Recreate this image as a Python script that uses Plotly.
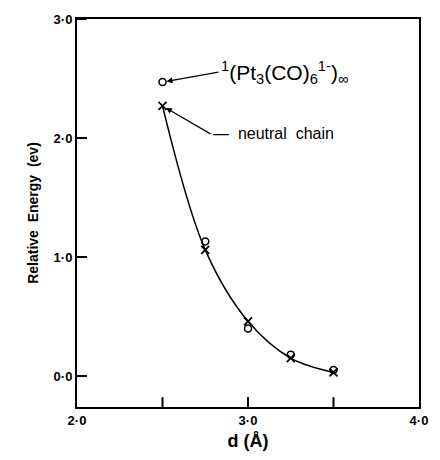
import plotly.graph_objects as go

d_vals = [2.5, 2.75, 3.0, 3.25, 3.5]
anion_energy = [2.47, 1.13, 0.40, 0.18, 0.05]
neutral_energy = [2.27, 1.06, 0.46, 0.15, 0.03]

x_tickvals = [2.0, 3.0, 4.0]
x_ticktext = ["2·0", "3·0", "4·0"]
x_tickmarks = [2.5, 3.0, 3.5]
y_tickvals = [0.0, 1.0, 2.0, 3.0]
y_ticktext = ["0·0", "1·0", "2·0", "3·0"]

FONT = "Liberation Sans, Arial, sans-serif"
W, H = 440, 460
ML, MR, MT, MB = 77, 12, 14, 52
XR = [2.0, 4.0]
YR = [-0.26, 3.0]
TICK_PX = 10

fig = go.Figure()
fig.add_trace(go.Scatter(
    x=d_vals, y=neutral_energy, mode="lines",
    line=dict(color="black", width=1.5, shape="spline", smoothing=1.0),
    hoverinfo="skip", showlegend=False))
fig.add_trace(go.Scatter(
    x=d_vals, y=anion_energy, mode="markers",
    marker=dict(symbol="circle-open", size=7, color="black", line=dict(width=1.5)),
    showlegend=False))
fig.add_trace(go.Scatter(
    x=d_vals, y=neutral_energy, mode="markers",
    marker=dict(symbol="x-thin-open", size=8, color="black", line=dict(width=1.8, color="black")),
    showlegend=False))

# inside tick marks: length converted from pixels via the axis ranges
dx_tick = TICK_PX * (XR[1] - XR[0]) / (W - ML - MR)
dy_tick = TICK_PX * (YR[1] - YR[0]) / (H - MT - MB)
tx, ty = [], []
for xv in x_tickmarks:
    tx += [xv, xv, None]
    ty += [YR[0], YR[0] + dy_tick, None]
for yv in y_tickvals:
    tx += [XR[0], XR[0] + dx_tick, None]
    ty += [yv, yv, None]
fig.add_trace(go.Scatter(x=tx, y=ty, mode="lines", line=dict(color="black", width=2),
                         hoverinfo="skip", showlegend=False, cliponaxis=False))

fig.add_annotation(
    x=2.5, y=anion_energy[0], xref="x", yref="y",
    text="<sup>1</sup>(Pt<sub>3</sub>(CO)<sub>6</sub><sup>1-</sup>)<sub>∞</sub>",
    showarrow=True, arrowhead=2, arrowsize=1, arrowwidth=1.2, arrowcolor="black",
    ax=56, ay=-10, xanchor="left", yanchor="middle", standoff=4,
    font=dict(family=FONT, size=21, color="black"))
fig.add_annotation(
    x=2.5, y=neutral_energy[0], xref="x", yref="y",
    text="—  neutral  chain",
    showarrow=True, arrowhead=2, arrowsize=1, arrowwidth=1.2, arrowcolor="black",
    ax=48, ay=28, xanchor="left", yanchor="middle", standoff=4,
    font=dict(family=FONT, size=16, color="black"))

axis_common = dict(
    ticks="inside", ticklen=TICK_PX, tickwidth=2, tickcolor="black",
    showline=True, linecolor="black", linewidth=2, mirror=True,
    showgrid=False, zeroline=False,
    tickfont=dict(family=FONT, size=13, color="black", weight="bold"),
)

fig.update_layout(
    width=W, height=H,
    margin=dict(l=ML, r=MR, t=MT, b=MB),
    plot_bgcolor="white", paper_bgcolor="white",
    font=dict(family=FONT, color="black"),
    xaxis=dict(
        range=XR, tickvals=x_tickvals, ticktext=x_ticktext,
        title=dict(text="d (Å)", font=dict(family=FONT, size=18, color="black", weight="bold"), standoff=8),
        **axis_common),
    yaxis=dict(
        range=YR, tickvals=y_tickvals, ticktext=y_ticktext,
        title=dict(text="Relative  Energy  (ev)", font=dict(family=FONT, size=14, color="black", weight="bold"), standoff=12),
        **axis_common),
)

fig.write_html("out.html", config={"displayModeBar": False},
               post_script="document.body.style.margin='0';")
